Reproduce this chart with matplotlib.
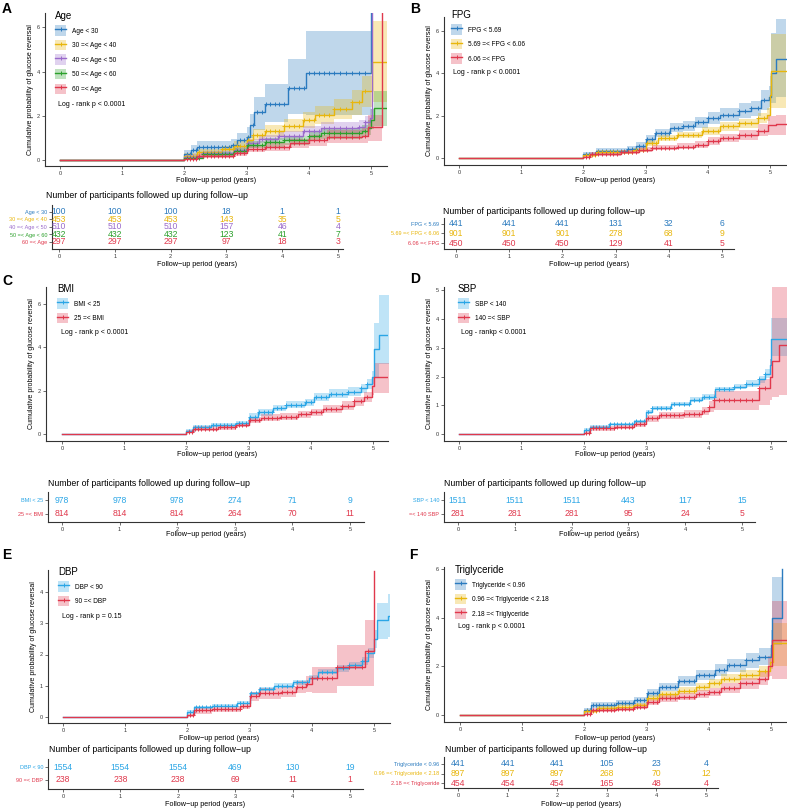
#!/usr/bin/env python3
"""
Cumulative probability of glucose reversal by baseline group (panels A-F),
each panel with its number-at-risk table underneath. Writes out.png.
"""
import numpy as np
import matplotlib
matplotlib.use('Agg')
import matplotlib.pyplot as plt
from matplotlib.patches import Patch
from matplotlib.lines import Line2D

plt.rcParams['font.family'] = ['Liberation Sans', 'DejaVu Sans']

W, H = 787, 808

BLUE = '#2b7bbf'
LBLUE = '#2ba6e6'
YEL = '#e8b60c'
PUR = '#9a6bcb'
GRN = '#2ca02c'
RED = '#e0384c'

XLAB = 'Follow\u2212up period (years)'
YLAB = 'Cumulative probability of glucose reversal'
TTL = 'Number of participants followed up during follow\u2212up'

risk_times = [0, 1, 2, 3, 4, 5]

# ---------------- A: Age ----------------
age_labels = ['Age < 30', '30 =< Age < 40', '40 =< Age < 50', '50 =< Age < 60', '60 =< Age']
age_t = [
    [0, 2.0, 2.1, 2.2, 2.75, 2.85, 3.0, 3.05, 3.12, 3.3, 3.67, 3.95, 5.0],
    [0, 2.0, 2.2, 2.6, 2.8, 3.0, 3.1, 3.3, 3.6, 3.9, 4.1, 4.4, 4.7, 4.85, 5.02, 5.26],
    [0, 2.0, 2.3, 2.8, 3.0, 3.2, 3.5, 3.9, 4.2, 4.8, 4.9, 4.98, 5.02],
    [0, 2.0, 2.3, 2.8, 3.0, 3.3, 3.6, 4.0, 4.2, 4.85, 4.95, 5.0, 5.05, 5.26],
    [0, 2.0, 2.2, 2.8, 3.0, 3.3, 3.7, 4.0, 4.3, 4.85, 4.95, 5.18],
]
age_y = [
    [0, 0.25, 0.45, 0.6, 0.7, 0.9, 1.05, 1.6, 2.15, 2.55, 3.25, 3.95, 7.0],
    [0, 0.2, 0.35, 0.5, 0.65, 0.9, 1.15, 1.3, 1.55, 1.8, 2.05, 2.3, 2.6, 3.1, 4.45, 4.45],
    [0, 0.15, 0.3, 0.45, 0.75, 0.95, 1.1, 1.3, 1.45, 1.5, 1.7, 1.9, 7.0],
    [0, 0.1, 0.25, 0.4, 0.7, 0.8, 0.9, 1.1, 1.2, 1.3, 1.45, 1.8, 2.35, 2.35],
    [0, 0.05, 0.2, 0.3, 0.5, 0.6, 0.75, 0.9, 1.05, 1.1, 1.5, 7.0],
]
age_lo = [
    [0, 0.05, 0.2, 0.3, 0.4, 0.55, 0.6, 1.0, 1.35, 1.7, 2.1, 2.05, 2.05],
    [0, 0.1, 0.2, 0.35, 0.45, 0.7, 0.9, 1.05, 1.25, 1.45, 1.65, 1.85, 2.05, 2.4, 2.6, 2.6],
    [0, 0.05, 0.18, 0.3, 0.55, 0.75, 0.9, 1.1, 1.2, 1.25, 1.4, 1.55, 1.55],
    [0, 0.03, 0.15, 0.28, 0.52, 0.6, 0.7, 0.88, 0.95, 1.02, 1.15, 1.4, 1.55, 1.55],
    [0, 0.0, 0.1, 0.18, 0.35, 0.42, 0.55, 0.65, 0.75, 0.78, 0.85, 0.85],
]
age_hi = [
    [0, 0.45, 0.7, 0.85, 0.95, 1.2, 1.5, 2.1, 2.85, 3.45, 4.55, 5.85, 5.85],
    [0, 0.3, 0.5, 0.65, 0.85, 1.1, 1.4, 1.6, 1.85, 2.15, 2.45, 2.75, 3.15, 3.8, 6.3, 6.3],
    [0, 0.25, 0.42, 0.6, 0.95, 1.15, 1.3, 1.55, 1.7, 1.8, 2.0, 2.3, 2.3],
    [0, 0.2, 0.37, 0.55, 0.88, 1.0, 1.1, 1.33, 1.45, 1.6, 1.8, 2.3, 3.1, 3.1],
    [0, 0.12, 0.3, 0.42, 0.65, 0.78, 0.95, 1.15, 1.35, 1.45, 2.05, 2.05],
]
age_risk = [
    [100, 100, 100, 18, 1, 1],
    [453, 453, 453, 143, 35, 5],
    [510, 510, 510, 157, 46, 4],
    [432, 432, 432, 123, 41, 7],
    [297, 297, 297, 97, 18, 3],
]

# ---------------- B: FPG ----------------
fpg_labels = ['FPG < 5.69', '5.69 =< FPG < 6.06', '6.06 =< FPG']
fpg_t = [
    [0, 2.0, 2.2, 2.7, 2.85, 3.0, 3.15, 3.4, 3.6, 3.8, 4.0, 4.2, 4.5, 4.7, 4.85, 4.98, 5.02, 5.1, 5.26],
    [0, 2.0, 2.2, 2.8, 3.0, 3.2, 3.5, 3.9, 4.2, 4.5, 4.8, 4.95, 5.0, 5.02, 5.26],
    [0, 2.0, 2.1, 2.6, 2.9, 3.1, 3.5, 3.8, 4.0, 4.2, 4.5, 4.8, 4.97, 5.1, 5.26],
]
fpg_y = [
    [0, 0.2, 0.35, 0.45, 0.6, 0.9, 1.2, 1.45, 1.5, 1.7, 1.9, 2.05, 2.25, 2.35, 2.75, 2.9, 4.0, 4.7, 4.7],
    [0, 0.15, 0.3, 0.4, 0.7, 0.95, 1.1, 1.3, 1.5, 1.65, 1.9, 2.05, 3.0, 4.1, 4.1],
    [0, 0.05, 0.2, 0.3, 0.4, 0.5, 0.55, 0.65, 0.8, 0.95, 1.1, 1.3, 1.55, 1.6, 1.6],
]
fpg_lo = [
    [0, 0.1, 0.22, 0.3, 0.45, 0.72, 1.0, 1.22, 1.27, 1.45, 1.62, 1.75, 1.92, 2.0, 2.3, 2.4, 2.6, 2.9, 2.9],
    [0, 0.08, 0.2, 0.3, 0.56, 0.8, 0.95, 1.12, 1.3, 1.43, 1.65, 1.75, 2.3, 2.35, 2.35],
    [0, 0.0, 0.1, 0.2, 0.28, 0.37, 0.42, 0.5, 0.63, 0.75, 0.88, 1.05, 1.1, 1.1, 1.1],
]
fpg_hi = [
    [0, 0.3, 0.48, 0.6, 0.78, 1.08, 1.4, 1.68, 1.75, 1.95, 2.18, 2.35, 2.6, 2.7, 3.2, 3.4, 5.9, 6.55, 6.55],
    [0, 0.22, 0.4, 0.5, 0.84, 1.1, 1.25, 1.48, 1.7, 1.87, 2.15, 2.35, 3.9, 5.85, 5.85],
    [0, 0.1, 0.3, 0.4, 0.52, 0.63, 0.7, 0.82, 1.0, 1.15, 1.35, 1.6, 2.0, 2.05, 2.05],
]
fpg_risk = [
    [441, 441, 441, 131, 32, 6],
    [901, 901, 901, 278, 68, 9],
    [450, 450, 450, 129, 41, 5],
]

# ---------------- C: BMI ----------------
bmi_labels = ['BMI < 25', '25 =< BMI']
bmi_t = [
    [0, 2.0, 2.1, 2.4, 2.8, 3.0, 3.15, 3.4, 3.6, 3.9, 4.05, 4.3, 4.6, 4.8, 4.9, 4.98, 5.02, 5.1, 5.26],
    [0, 2.0, 2.1, 2.5, 2.8, 3.0, 3.2, 3.5, 3.8, 4.0, 4.2, 4.5, 4.7, 4.85, 4.98, 5.02, 5.26],
]
bmi_y = [
    [0, 0.15, 0.3, 0.4, 0.5, 0.8, 1.0, 1.2, 1.35, 1.45, 1.7, 1.85, 1.95, 2.1, 2.3, 2.6, 3.9, 4.55, 4.55],
    [0, 0.1, 0.25, 0.3, 0.4, 0.65, 0.75, 0.8, 0.9, 1.0, 1.15, 1.3, 1.5, 1.7, 2.2, 2.6, 2.6],
]
bmi_lo = [
    [0, 0.08, 0.2, 0.3, 0.4, 0.65, 0.85, 1.05, 1.18, 1.28, 1.5, 1.65, 1.75, 1.88, 2.05, 2.3, 2.6, 3.2, 3.2],
    [0, 0.03, 0.15, 0.2, 0.3, 0.52, 0.6, 0.65, 0.75, 0.83, 0.97, 1.1, 1.28, 1.45, 1.8, 1.9, 1.9],
]
bmi_hi = [
    [0, 0.22, 0.4, 0.5, 0.6, 0.95, 1.15, 1.35, 1.52, 1.62, 1.9, 2.05, 2.15, 2.32, 2.55, 2.9, 5.1, 6.4, 6.4],
    [0, 0.17, 0.35, 0.4, 0.5, 0.78, 0.9, 0.95, 1.05, 1.17, 1.33, 1.5, 1.72, 1.95, 2.6, 3.25, 3.25],
]
bmi_risk = [
    [978, 978, 978, 274, 71, 9],
    [814, 814, 814, 264, 70, 11],
]

# ---------------- D: SBP ----------------
sbp_labels = ['SBP < 140', '140 =< SBP']
sbp_table_labels = ['SBP < 140', '=< 140 SBP']
sbp_t = [
    [0, 2.0, 2.1, 2.4, 2.8, 3.0, 3.1, 3.4, 3.7, 3.9, 4.1, 4.4, 4.6, 4.8, 4.9, 4.98, 5.0, 5.26],
    [0, 2.0, 2.1, 2.5, 2.8, 3.0, 3.2, 3.6, 3.9, 4.0, 4.08, 4.75, 4.8, 4.98, 5.02, 5.13, 5.26],
]
sbp_y = [
    [0, 0.15, 0.25, 0.35, 0.45, 0.75, 0.9, 1.05, 1.2, 1.3, 1.55, 1.65, 1.75, 1.9, 2.1, 2.4, 3.3, 3.3],
    [0, 0.05, 0.2, 0.25, 0.35, 0.55, 0.65, 0.7, 0.8, 0.95, 1.2, 1.2, 1.6, 2.0, 2.55, 3.1, 3.1],
]
sbp_lo = [
    [0, 0.1, 0.2, 0.3, 0.4, 0.68, 0.82, 0.97, 1.1, 1.2, 1.45, 1.55, 1.63, 1.77, 1.95, 2.2, 2.7, 2.7],
    [0, 0.0, 0.12, 0.17, 0.25, 0.43, 0.52, 0.57, 0.65, 0.75, 0.85, 0.85, 1.0, 1.2, 1.3, 1.35, 1.35],
]
sbp_hi = [
    [0, 0.2, 0.3, 0.4, 0.5, 0.82, 0.98, 1.13, 1.3, 1.4, 1.65, 1.75, 1.87, 2.03, 2.25, 2.6, 4.05, 4.05],
    [0, 0.1, 0.28, 0.33, 0.45, 0.67, 0.78, 0.83, 0.95, 1.15, 1.5, 1.5, 1.9, 2.6, 5.5, 5.5, 5.5],
]
sbp_risk = [
    [1511, 1511, 1511, 443, 117, 15],
    [281, 281, 281, 95, 24, 5],
]

# ---------------- E: DBP ----------------
dbp_labels = ['DBP < 90', '90 =< DBP']
dbp_t = [
    [0, 2.0, 2.1, 2.4, 2.8, 3.0, 3.15, 3.4, 3.7, 3.95, 4.1, 4.4, 4.6, 4.8, 4.9, 5.0, 5.05, 5.22, 5.26],
    [0, 2.0, 2.1, 2.4, 2.85, 3.0, 3.15, 3.5, 3.75, 3.9, 4.0, 4.4, 4.85, 5.0],
]
dbp_y = [
    [0, 0.15, 0.3, 0.35, 0.45, 0.75, 0.9, 1.0, 1.1, 1.25, 1.45, 1.55, 1.65, 1.8, 2.05, 2.5, 3.1, 3.25, 3.25],
    [0, 0.05, 0.2, 0.25, 0.35, 0.65, 0.75, 0.8, 0.95, 1.05, 1.25, 1.6, 2.1, 4.7],
]
dbp_lo = [
    [0, 0.1, 0.25, 0.3, 0.4, 0.69, 0.83, 0.93, 1.03, 1.17, 1.36, 1.45, 1.54, 1.67, 1.9, 2.2, 2.5, 2.55, 2.55],
    [0, 0.0, 0.1, 0.15, 0.25, 0.5, 0.58, 0.62, 0.75, 0.8, 0.75, 1.0, 1.0, 1.0],
]
dbp_hi = [
    [0, 0.2, 0.35, 0.4, 0.5, 0.81, 0.97, 1.07, 1.17, 1.33, 1.54, 1.65, 1.76, 1.93, 2.2, 2.8, 3.65, 3.95, 3.95],
    [0, 0.1, 0.3, 0.35, 0.45, 0.8, 0.92, 0.98, 1.15, 1.3, 1.6, 2.3, 3.1, 3.1],
]
dbp_risk = [
    [1554, 1554, 1554, 469, 130, 19],
    [238, 238, 238, 69, 11, 1],
]

# ---------------- F: Triglyceride ----------------
tg_labels = ['Triglyceride < 0.96', '0.96 =< Triglyceride < 2.18', '2.18 =< Triglyceride']
tg_t = [
    [0, 2.0, 2.1, 2.5, 2.8, 3.0, 3.2, 3.5, 3.8, 4.1, 4.3, 4.6, 4.8, 5.0, 5.02, 5.18],
    [0, 2.0, 2.2, 2.5, 2.8, 3.0, 3.2, 3.5, 3.8, 4.0, 4.2, 4.5, 4.8, 4.98, 5.03, 5.26],
    [0, 2.0, 2.1, 2.5, 2.8, 3.0, 3.2, 3.5, 3.8, 4.0, 4.2, 4.5, 4.8, 4.95, 5.02, 5.26],
]
tg_y = [
    [0, 0.2, 0.4, 0.5, 0.6, 0.9, 1.15, 1.4, 1.65, 1.85, 2.05, 2.25, 2.4, 2.9, 4.0, 6.0],
    [0, 0.15, 0.3, 0.35, 0.4, 0.7, 0.85, 1.0, 1.15, 1.3, 1.5, 1.65, 1.8, 2.2, 2.95, 2.95],
    [0, 0.05, 0.2, 0.25, 0.35, 0.55, 0.7, 0.75, 0.85, 0.95, 1.1, 1.3, 1.5, 2.0, 3.1, 3.1],
]
tg_lo = [
    [0, 0.1, 0.28, 0.38, 0.47, 0.74, 0.97, 1.2, 1.43, 1.6, 1.78, 1.95, 2.05, 2.35, 2.9, 2.9],
    [0, 0.08, 0.21, 0.26, 0.31, 0.58, 0.72, 0.86, 1.0, 1.13, 1.31, 1.45, 1.58, 1.9, 2.0, 2.0],
    [0, 0.0, 0.12, 0.16, 0.25, 0.42, 0.55, 0.6, 0.68, 0.77, 0.9, 1.07, 1.22, 1.6, 1.5, 1.5],
]
tg_hi = [
    [0, 0.3, 0.52, 0.62, 0.73, 1.06, 1.33, 1.6, 1.87, 2.1, 2.32, 2.55, 2.75, 3.5, 5.7, 5.7],
    [0, 0.22, 0.39, 0.44, 0.49, 0.82, 0.98, 1.14, 1.3, 1.47, 1.69, 1.85, 2.02, 2.5, 3.8, 3.8],
    [0, 0.1, 0.28, 0.34, 0.45, 0.68, 0.85, 0.9, 1.02, 1.13, 1.3, 1.53, 1.78, 2.45, 4.7, 4.7],
]
tg_risk = [
    [441, 441, 441, 105, 23, 4],
    [897, 897, 897, 268, 70, 12],
    [454, 454, 454, 165, 48, 4],
]

# censoring times shown as "+" on the curves
censor_times = [2.04, 2.09, 2.14, 2.19, 2.24, 2.3, 2.36, 2.42, 2.48, 2.54, 2.6, 2.66,
                2.72, 2.78, 2.84, 2.9, 2.96, 3.03, 3.1, 3.17, 3.24, 3.31, 3.38, 3.45,
                3.52, 3.6, 3.68, 3.76, 3.84, 3.92, 4.0, 4.08, 4.16, 4.24, 4.32,
                4.41, 4.5, 4.6, 4.7, 4.8, 4.9]


fig = plt.figure(figsize=(W / 100, H / 100), dpi=100)


def frac(l, t, r, b):
    return [l / W, 1 - b / H, (r - l) / W, (b - t) / H]


def style_axis(ax):
    for s in ('top', 'right'):
        ax.spines[s].set_visible(False)
    for s in ('left', 'bottom'):
        ax.spines[s].set_color('#333333')
        ax.spines[s].set_linewidth(0.8)
    ax.tick_params(labelsize=4, length=2, width=0.5, pad=1.5, colors='#333333')


def draw_panel(tag, title, labels, colors, ts, ys, los, his, risk, table_labels,
               logrank, yticks, L):
    # ---- curve plot ----
    l, t, r, b = L['plot']
    ax = fig.add_axes(frac(l, t, r, b))
    x0, x5 = L['xcal']
    ppx = (x5 - x0) / 5
    ax.set_xlim((l - x0) / ppx, (r - x0) / ppx)
    y0, yk, k = L['ycal']
    ppy = (y0 - yk) / k
    ax.set_ylim((y0 - b) / ppy, (y0 - t) / ppy)

    for tt, lo, hi, c in zip(ts, los, his, colors):
        ax.fill_between(tt, lo, hi, step='post', color=c, alpha=0.3, lw=0)
    for tt, yy, c in zip(ts, ys, colors):
        ax.step(tt, yy, where='post', color=c, lw=1.0)
        tt = np.asarray(tt)
        yy = np.asarray(yy)
        cs = np.array([c_ for c_ in censor_times if c_ < tt[-1]])
        idx = np.searchsorted(tt, cs, side='right') - 1
        ax.plot(cs, yy[idx], ls='none', marker='+', ms=3.5, mew=0.7, color=c)

    style_axis(ax)
    ax.set_xticks(risk_times)
    ax.set_yticks(yticks)
    ax.set_ylabel(YLAB, fontsize=5, labelpad=2)
    fig.text((l + r) / 2 / W, 1 - L['xlab'] / H, XLAB, fontsize=5.2,
             ha='center', va='center')

    handles = [(Patch(facecolor=c, alpha=0.3, lw=0),
                Line2D([], [], color=c, lw=1.0, marker='+', ms=3.5, mew=0.7))
               for c in colors]
    lx, ly = L['legend']
    ax.legend(handles, labels, title=title, loc='upper left',
              bbox_to_anchor=(lx / W, 1 - ly / H), bbox_transform=fig.transFigure,
              frameon=False, fontsize=4.7, title_fontsize=7, alignment='left',
              handlelength=1.75, handleheight=2.0, labelspacing=0.68,
              handletextpad=0.8, borderpad=0, borderaxespad=0)
    gx, gy = L['logrank']
    fig.text(gx / W, 1 - gy / H, logrank, fontsize=5, va='center', ha='left')

    # ---- risk table ----
    l2, t2, r2, b2 = L['table']
    tx = fig.add_axes(frac(l2, t2, r2, b2))
    x0, x5 = L['tcal']
    ppx = (x5 - x0) / 5
    tx.set_xlim((l2 - x0) / ppx, (r2 - x0) / ppx)
    yf, yl = L['rows']
    n = len(risk)
    s = (yl - yf) / (n - 1)
    tx.set_ylim((b2 - yf) / s, (t2 - yf) / s)
    for i, row in enumerate(risk):
        for tm, v in zip(risk_times, row):
            tx.text(tm, i, str(v), ha='center', va='center', color=colors[i],
                    fontsize=6.2)
    style_axis(tx)
    tx.set_xticks(risk_times)
    tx.set_yticks(range(n))
    tx.set_yticklabels(table_labels, fontsize=4)
    for lab, c in zip(tx.get_yticklabels(), colors):
        lab.set_color(c)
    tx_, ty_ = L['ttitle']
    fig.text(tx_ / W, 1 - ty_ / H, TTL, fontsize=6.3, ha='left', va='center')
    fig.text((l2 + r2) / 2 / W, 1 - L['txlab'] / H, XLAB, fontsize=5.2,
             ha='center', va='center')

    kx, ky = L['tag']
    fig.text(kx / W, 1 - ky / H, tag, fontsize=10, fontweight='bold',
             ha='left', va='top')


layout_A = dict(plot=(45, 13, 387, 166), xcal=(60, 371), ycal=(160, 27.3, 6), xlab=180,
                legend=(55, 11), logrank=(58, 104), table=(52, 205, 343, 249),
                tcal=(59, 338), rows=(212, 242), ttitle=(46, 196), txlab=265, tag=(2, 2))
layout_B = dict(plot=(444, 17, 787, 165), xcal=(459, 770), ycal=(158.3, 31, 6), xlab=180,
                legend=(451, 10), logrank=(453, 73), table=(444, 218, 734, 249),
                tcal=(456, 722), rows=(224, 243), ttitle=(443, 211), txlab=265, tag=(410, 2))
layout_C = dict(plot=(46, 287, 388, 441), xcal=(62, 373), ycal=(434, 303.5, 6), xlab=455,
                legend=(57, 284), logrank=(61, 333), table=(48, 492, 364, 522),
                tcal=(62, 350), rows=(500, 514), ttitle=(48, 483), txlab=535, tag=(2, 274))
layout_D = dict(plot=(444, 287, 787, 441), xcal=(459, 771), ycal=(434, 319, 4), xlab=455,
                legend=(458, 284), logrank=(461, 333), table=(444, 492, 755, 522),
                tcal=(458, 742), rows=(500, 514), ttitle=(444, 483), txlab=535, tag=(410, 272))
layout_E = dict(plot=(48, 570, 390, 723), xcal=(63, 374), ycal=(716.7, 592.3, 4), xlab=738,
                legend=(58, 567), logrank=(62, 616), table=(48, 759, 363, 789),
                tcal=(63, 350), rows=(767, 780), ttitle=(49, 750), txlab=804, tag=(2, 548))
layout_F = dict(plot=(444, 567, 787, 722), xcal=(460, 771), ycal=(715, 569.3, 6), xlab=738,
                legend=(455, 565), logrank=(458, 626), table=(444, 757, 718, 788),
                tcal=(458, 706), rows=(764, 783), ttitle=(445, 750), txlab=804, tag=(409, 548))

draw_panel('A', 'Age', age_labels, [BLUE, YEL, PUR, GRN, RED], age_t, age_y, age_lo, age_hi,
           age_risk, age_labels, 'Log - rank p < 0.0001', [0, 2, 4, 6], layout_A)
draw_panel('B', 'FPG', fpg_labels, [BLUE, YEL, RED], fpg_t, fpg_y, fpg_lo, fpg_hi,
           fpg_risk, fpg_labels, 'Log - rank p < 0.0001', [0, 2, 4, 6], layout_B)
draw_panel('C', 'BMI', bmi_labels, [LBLUE, RED], bmi_t, bmi_y, bmi_lo, bmi_hi,
           bmi_risk, bmi_labels, 'Log - rank p < 0.0001', [0, 2, 4, 6], layout_C)
draw_panel('D', 'SBP', sbp_labels, [LBLUE, RED], sbp_t, sbp_y, sbp_lo, sbp_hi,
           sbp_risk, sbp_table_labels, 'Log - rankp < 0.0001', [0, 1, 2, 3, 4, 5], layout_D)
draw_panel('E', 'DBP', dbp_labels, [LBLUE, RED], dbp_t, dbp_y, dbp_lo, dbp_hi,
           dbp_risk, dbp_labels, 'Log - rank p = 0.15', [0, 1, 2, 3, 4], layout_E)
draw_panel('F', 'Triglyceride', tg_labels, [BLUE, YEL, RED], tg_t, tg_y, tg_lo, tg_hi,
           tg_risk, tg_labels, 'Log - rank p < 0.0001', [0, 2, 4, 6], layout_F)

fig.savefig('out.png', dpi=100)
